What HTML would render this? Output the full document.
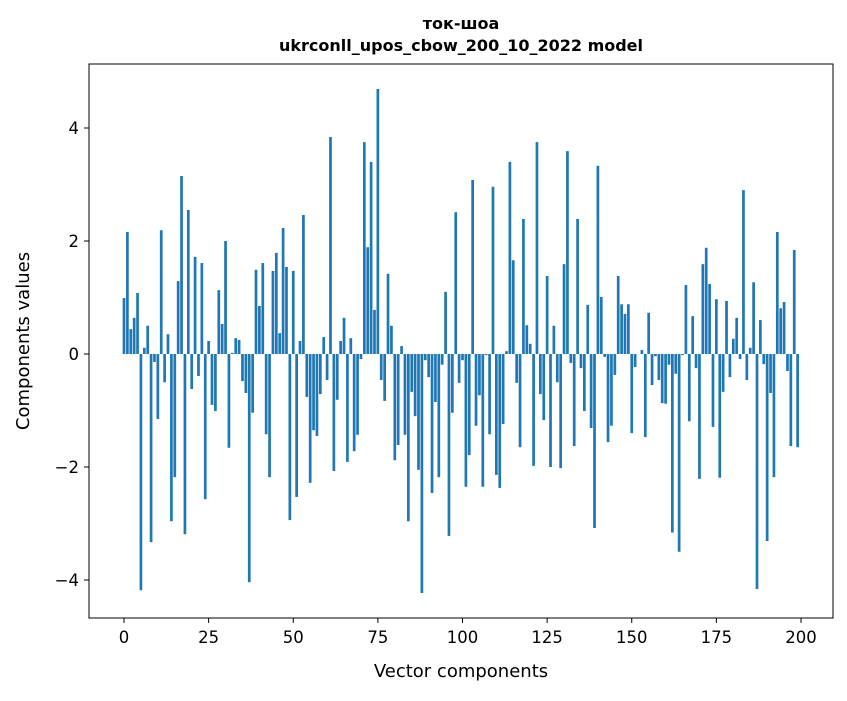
<!DOCTYPE html>
<html><head><meta charset="utf-8"><style>
body{margin:0;background:#fff}
svg{font-family:"DejaVu Sans","Liberation Sans",sans-serif}
</style></head><body>
<svg id="chart" width="847" height="696" xmlns="http://www.w3.org/2000/svg">
<rect width="847" height="696" fill="#fff"/>
<text x="461" y="29" text-anchor="middle" font-size="16" font-weight="bold">ток-шоа</text>
<text x="461" y="51" text-anchor="middle" font-size="16" font-weight="bold">ukrconll_upos_cbow_200_10_2022 model</text>
<g id="bars"></g>
<g id="axes"></g>
<rect x="89" y="64" width="744" height="554" fill="none" stroke="#000" stroke-width="1"/>
<text x="461" y="677" text-anchor="middle" font-size="18">Vector components</text>
<text transform="translate(29,341) rotate(-90)" text-anchor="middle" font-size="18">Components values</text>
</svg>
<script>
const values = [
0.99,2.16,0.44,0.64,1.08,-4.18,0.11,0.5,-3.33,-0.14,
-1.15,2.19,-0.5,0.35,-2.96,-2.18,1.29,3.15,-3.19,2.55,
-0.62,1.72,-0.39,1.61,-2.57,0.23,-0.9,-1.01,1.13,0.53,
2.0,-1.66,0.02,0.28,0.25,-0.48,-0.69,-4.04,-1.04,1.49,
0.85,1.61,-1.42,-2.18,1.47,1.79,0.37,2.23,1.54,-2.94,
1.47,-2.53,0.23,2.46,-0.76,-2.28,-1.35,-1.45,-0.71,0.3,
-0.46,3.84,-2.07,-0.81,0.23,0.64,-1.91,0.28,-1.72,-1.43,
-0.09,3.75,1.89,3.4,0.78,4.69,-0.46,-0.83,1.42,0.5,
-1.88,-1.61,0.14,-1.43,-2.96,-0.67,-1.1,-2.05,-4.23,-0.11,
-0.41,-2.46,-0.85,-2.18,-0.19,1.1,-3.22,-1.04,2.51,-0.51,
-0.11,-2.35,-1.79,3.08,-1.27,-0.73,-2.35,-0.02,-1.42,2.96,
-2.14,-2.37,-1.24,0.05,3.4,1.66,-0.51,-1.65,2.39,0.51,
0.18,-1.98,3.75,-0.71,-1.17,1.38,-2.0,0.5,-0.5,-2.02,
1.59,3.59,-0.16,-1.63,2.39,-0.25,-1.01,0.87,-1.31,-3.08,
3.33,1.01,-0.05,-1.56,-1.27,-0.37,1.38,0.88,0.71,0.88,
-1.4,-0.23,0.0,0.07,-1.47,0.73,-0.55,-0.04,-0.46,-0.87,
-0.88,-0.19,-3.16,-0.35,-3.5,-0.02,1.22,-1.19,0.67,-0.25,
-2.21,1.59,1.88,1.24,-1.29,0.97,-2.19,-0.67,0.94,-0.41,
0.27,0.64,-0.09,2.9,-0.46,0.11,1.27,-4.16,0.6,-0.18,
-3.31,-0.69,-2.18,2.16,0.81,0.92,-0.3,-1.63,1.84,-1.65];
const xTicks = [0,25,50,75,100,125,150,175,200];
const yTicks = [-4,-2,0,2,4];

const NS="http://www.w3.org/2000/svg";
const xScale = v => 124 + v*(801-124)/200;
const yScale = v => 354 - v*56.5;
const bw = 0.8*(801-124)/200;
const bars=document.getElementById('bars');
values.forEach((v,i)=>{
  const r=document.createElementNS(NS,'rect');
  const y0=yScale(0), y1=yScale(v);
  r.setAttribute('x',xScale(i)-bw/2);
  r.setAttribute('y',Math.min(y0,y1));
  r.setAttribute('width',bw);
  r.setAttribute('height',Math.abs(y1-y0));
  r.setAttribute('fill','#1f77b4');
  
  
  bars.appendChild(r);
});
const axes=document.getElementById('axes');
xTicks.forEach(t=>{
  const x=xScale(t);
  const l=document.createElementNS(NS,'line');
  l.setAttribute('x1',x);l.setAttribute('x2',x);l.setAttribute('y1',618);l.setAttribute('y2',623);
  l.setAttribute('stroke','#000');
  
  
  axes.appendChild(l);
  const tx=document.createElementNS(NS,'text');
  tx.setAttribute('x',x);tx.setAttribute('y',643);tx.setAttribute('text-anchor','middle');tx.setAttribute('font-size','16.5');
  tx.textContent=t;
  
  
  axes.appendChild(tx);
});
yTicks.forEach(t=>{
  const y=yScale(t);
  const l=document.createElementNS(NS,'line');
  l.setAttribute('x1',84);l.setAttribute('x2',89);l.setAttribute('y1',y);l.setAttribute('y2',y);
  l.setAttribute('stroke','#000');
  
  
  axes.appendChild(l);
  const tx=document.createElementNS(NS,'text');
  tx.setAttribute('x',79);tx.setAttribute('y',y+6);tx.setAttribute('text-anchor','end');tx.setAttribute('font-size','16.5');
  tx.textContent=t<0?'\u2212'+Math.abs(t):String(t);
  
  
  axes.appendChild(tx);
});
</script>
</body></html>
